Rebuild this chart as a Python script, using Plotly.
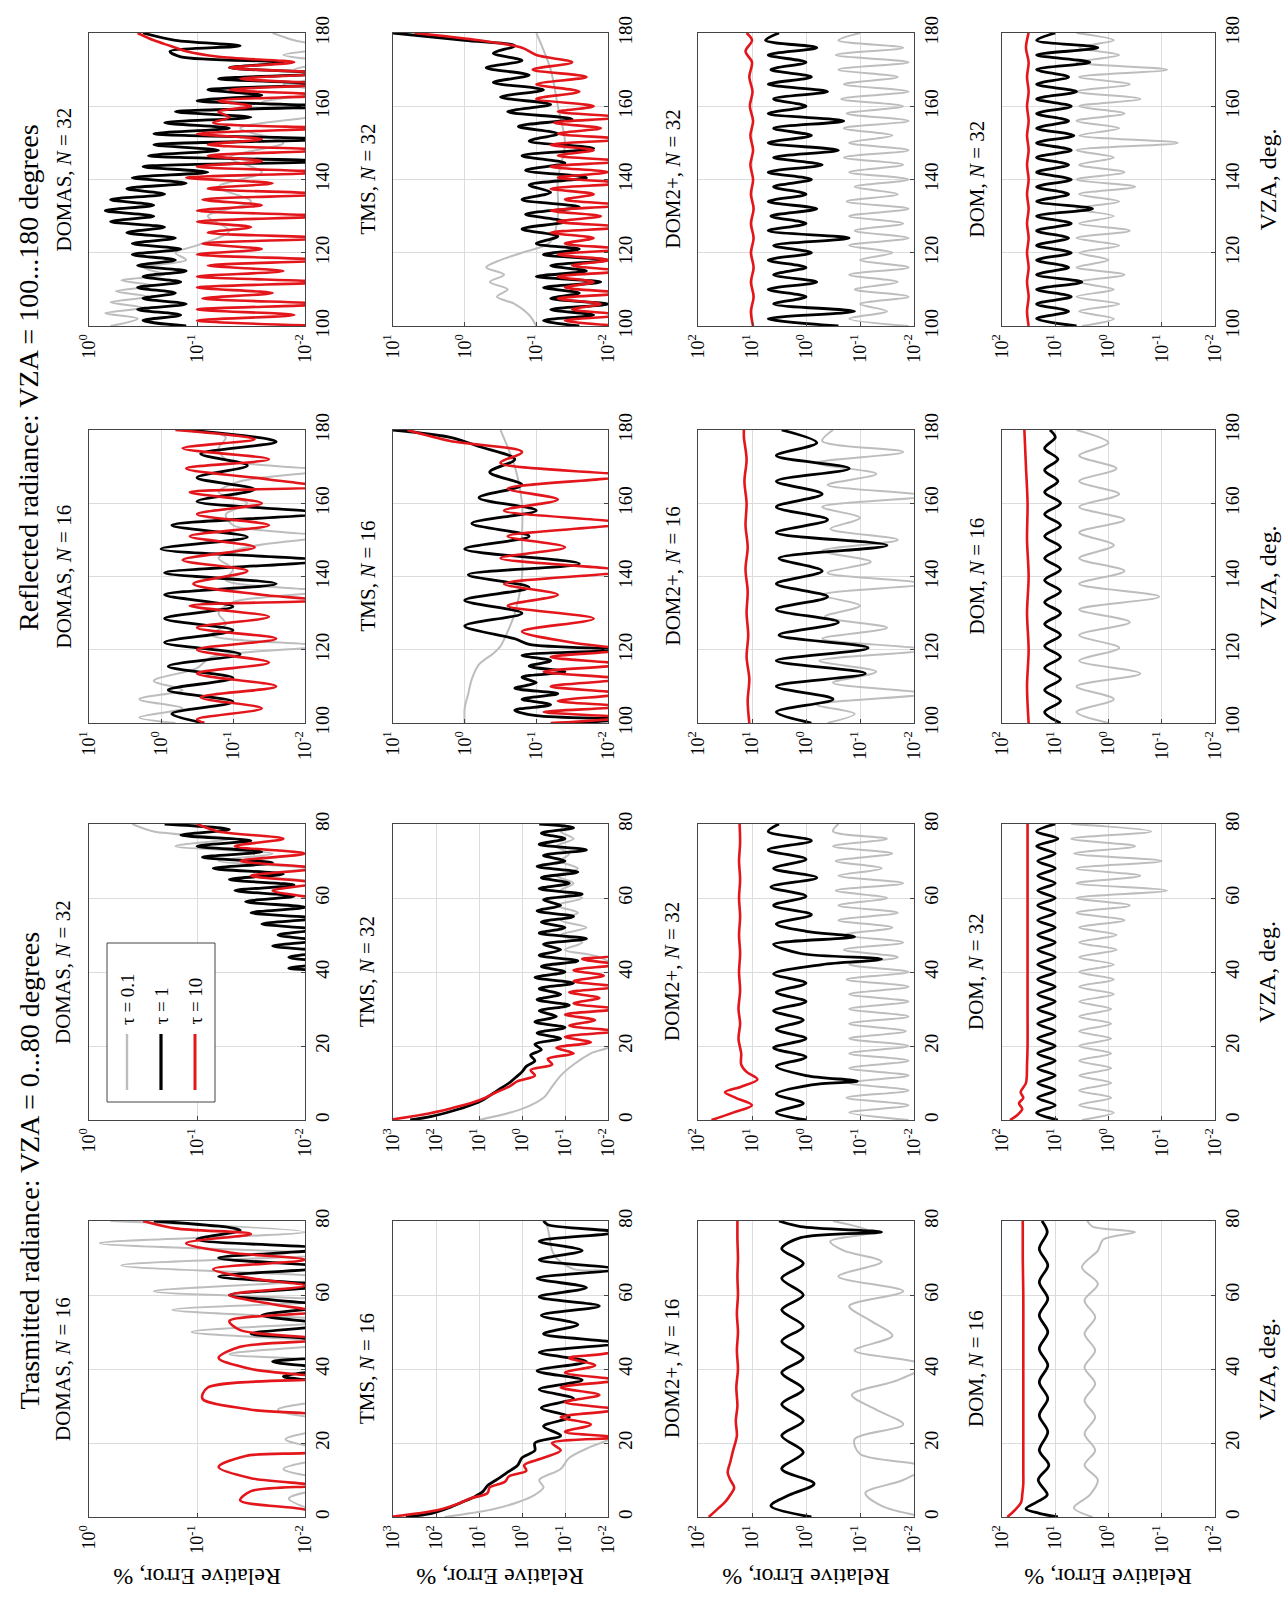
import plotly.graph_objects as go

# ---------------- data (VZA in degrees, values = log10 of relative error in %) ----------------
VZA_T_2 = [0, 2, 4, 6, 8, 10, 12, 14, 16, 18, 20, 22, 24, 26, 28, 30, 32, 34, 36, 38, 40,
           42, 44, 46, 48, 50, 52, 54, 56, 58, 60, 62, 64, 66, 68, 70, 72, 74, 76, 78, 80]
VZA_R_2 = [100, 102, 104, 106, 108, 110, 112, 114, 116, 118, 120, 122, 124, 126, 128, 130, 132,
           134, 136, 138, 140, 142, 144, 146, 148, 150, 152, 154, 156, 158, 160, 162, 164, 166,
           168, 170, 172, 174, 176, 178, 180]
VZA_R_15 = [100, 101.5, 103, 104.5, 106, 107.5, 109, 110.5, 112, 113.5, 115, 116.5, 118, 119.5,
            121, 122.5, 124, 125.5, 127, 128.5, 130, 131.5, 133, 134.5, 136, 137.5, 139, 140.5,
            142, 143.5, 145, 146.5, 148, 149.5, 151, 152.5, 154, 155.5, 157, 158.5, 160, 161.5,
            163, 164.5, 166, 167.5, 169, 170.5, 172, 173.5, 175, 176.5, 178, 180]
VZA_R_3 = [100, 103, 106, 109, 112, 115, 118, 121, 124, 127, 130, 133, 136, 139, 142, 145, 148,
           151, 154, 157, 160, 163, 166, 169, 172, 175, 178, 180]

# DOMAS, transmitted, N = 16
domas_t16_tau01 = [(0,-2.3),(5,-1.85),(9,-2.3),(13,-1.8),(17,-2.3),(21,-1.82),(25,-2.3),(29,-1.75),(33,-2.3),(37,-2.2),(41,-2.3),(44,-1.3),(47,-2.3),(50,-0.95),(53,-2.3),(56,-0.77),(58.5,-2.3),(61,-0.6),(64.5,-2.3),(68,-0.3),(71,-2.2),(74,-0.1),(77,-2.0),(80,-0.2)]
domas_t16_tau1 = [(0,-2.5),(30,-2.5),(36,-2.2),(38,-1.8),(40,-2.2),(42,-1.7),(44,-2.2),(47,-2.2),(49.5,-1.5),(52,-2.2),(54.5,-1.6),(57,-2.2),(60,-1.3),(62.5,-2.2),(65,-1.2),(67.5,-2.2),(70,-1.2),(72.5,-2.2),(75,-1.0),(77.5,-1.4),(80,-0.6)]
domas_t16_tau10 = [(0,-2.2),(2,-2.0),(4.5,-1.4),(7,-1.5),(8.5,-2.1),(10.5,-1.5),(13.5,-1.2),(16.5,-1.45),(19,-2.3),(26,-2.3),(29,-1.5),(32,-1.05),(35,-1.1),(37.5,-2.2),(40,-1.5),(43,-1.2),(46,-1.4),(48,-2.2),(50.5,-1.4),(53,-1.3),(55.5,-2.1),(57.5,-1.7),(60,-1.3),(62.5,-2.0),(64.5,-1.5),(67,-1.15),(69.5,-2.0),(71.5,-1.3),(74,-0.9),(76.5,-1.5),(78,-0.8),(80,-0.5)]

# DOMAS, transmitted, N = 32
domas_t32_tau01 = [(0,-2.5),(60,-2.5),(64,-2.2),(66,-1.5),(68,-2.0),(70,-1.2),(72,-1.7),(74,-0.8),(76,-1.3),(78,-0.6),(80,-0.4)]
domas_t32_tau1 = [(0,-2.5),(14,-2.5),(15,-2.05),(16,-2.5),(27,-2.5),(28,-2.05),(29,-2.5),(36,-2.5),(40,-2.2),(41,-1.85),(42.5,-2.2),(44,-1.85),(45.5,-2.2),(47,-1.7),(48.5,-2.1),(50,-1.75),(51.5,-2.1),(53,-1.6),(54.5,-2.1),(56,-1.5),(57.5,-2.0),(59,-1.45),(60.5,-1.9),(62,-1.35),(63.5,-1.9),(65,-1.3),(66.5,-1.8),(68,-1.15),(69.5,-1.7),(71,-1.05),(72.5,-1.6),(74,-1.0),(75.5,-1.5),(77,-0.85),(78.5,-1.3),(80,-0.7)]
domas_t32_tau10 = [(0,-2.5),(58,-2.5),(60,-2.1),(62,-1.7),(64,-2.1),(66,-1.5),(68,-2.1),(70,-1.4),(72,-2.0),(74,-1.35),(76,-1.8),(78,-1.2),(80,-1.0)]

# DOMAS, reflected, N = 16
domas_r16_tau01 = [(100,-0.2),(101.5,0.3),(104,-0.3),(106.5,0.3),(109,-0.3),(111.5,0.1),(115,-0.5),(118,-0.7),(121,-2.2),(124,-0.7),(127,-0.9),(130,-0.8),(133,-1.0),(136,-2.2),(139,-0.9),(142,-1.0),(145,-0.8),(148,-1.2),(151,-2.2),(154,-1.0),(157,-0.9),(160,-1.2),(163,-0.8),(166,-1.1),(169,-2.2),(172,-0.9),(175,-0.8),(178,-0.9),(180,-0.4)]
domas_r16_tau1 = [(100,-0.6),(102.5,-0.15),(105.8,-1.0),(109,-0.1),(112.3,-1.0),(115.5,-0.1),(118.8,-1.1),(122,-0.05),(125.3,-1.0),(128.5,-0.05),(131.8,-1.0),(135,-0.05),(138,-1.6),(141,-0.05),(144.3,-2.2),(147.5,0.0),(150.8,-1.2),(154,-0.15),(157.3,-2.2),(160.5,-0.5),(163.8,-1.3),(167,-0.5),(170.3,-1.2),(173.5,-0.55),(176.8,-1.6),(180,-0.35)]
domas_r16_tau10 = [(100,-0.6),(101,-0.5),(104,-1.4),(107,-0.55),(110,-1.6),(113.5,-0.5),(116.5,-1.5),(120,-0.5),(123,-1.6),(126,-0.5),(129,-1.5),(132,-0.4),(133.5,-2.2),(135,-1.4),(138,-0.45),(141.5,-1.2),(144.5,-0.3),(148,-1.3),(151,-0.4),(154,-1.5),(157,-0.5),(160,-1.4),(163,-0.4),(164.5,-2.2),(166.5,-1.5),(169.5,-0.35),(172,-1.5),(175,-0.3),(177.5,-1.3),(180,-0.2)]

# DOMAS, reflected, N = 32 (tau = 1 and tau = 10 on VZA_R_15)
domas_r32_tau01 = [(100,-0.2),(102,-0.45),(103.5,-0.15),(105,-0.5),(106.5,-0.2),(108,-0.55),(109.5,-0.25),(111,-0.6),(112.5,-0.3),(114,-0.7),(116,-0.5),(118,-0.9),(120,-0.8),(122,-1.0),(126,-1.3),(130,-1.1),(134,-1.5),(138,-1.2),(142,-1.6),(146,-1.3),(150,-1.8),(154,-1.4),(158,-2.2),(161,-1.6),(164,-2.2),(166,-1.8),(168,-2.2),(170,-1.9),(172,-2.2),(174,-1.8),(176,-2.2),(178,-1.9),(180,-1.7)]
domas_r32_tau1 = [-0.9, -0.5, -0.85, -0.45, -0.9, -0.5, -0.8, -0.45, -0.85, -0.5,
                  -0.9, -0.45, -0.8, -0.4, -0.85, -0.4, -0.8, -0.35, -0.7, -0.2,
                  -0.6, -0.15, -0.6, -0.2, -0.7, -0.35, -0.9, -0.4, -1.1, -0.5,
                  -2.2, -0.55, -1.2, -0.6, -2.2, -0.6, -1.3, -0.7, -1.5, -0.8,
                  -2.2, -1.0, -1.6, -1.1, -2.2, -1.2, -2.2, -1.3, -1.8, -0.85,
                  -0.75, -1.4, -0.8, -0.5]
domas_r32_tau10 = [-2.2, -1.0, -1.9, -1.0, -2.2, -1.05, -1.7, -1.0, -2.2, -1.0,
                   -1.8, -1.1, -2.2, -1.0, -1.6, -1.05, -2.2, -1.1, -1.5, -1.0,
                   -2.2, -1.0, -1.6, -1.05, -2.2, -1.1, -1.7, -0.9, -2.2, -1.0,
                   -1.6, -1.1, -2.2, -1.1, -1.6, -1.0, -2.2, -1.15, -1.3, -1.2,
                   -1.5, -1.2, -2.2, -1.3, -2.2, -1.4, -2.2, -1.3, -1.9, -1.2,
                   -0.9, -0.75, -0.6, -0.45]

# TMS, transmitted, N = 16
tms_t16_tau01 = [(0,1.8),(2,0.7),(4,0.1),(6,-0.3),(8,-0.5),(10,-0.4),(13,-0.9),(16,-1.1),(19,-1.6),(22,-2.2),(25,-2.3),(65,-2.3),(67,-1.2),(70,-0.8),(72,-0.7),(75,-0.65),(78,-0.6),(80,-0.55)]
tms_t16_tau1 = [(0,2.7),(1,2.1),(2.5,1.7),(4,1.4),(5.5,1.1),(7,0.9),(8.5,0.8),(10,0.6),(12,0.35),(14,0.1),(16,0.0),(18,-0.3),(20,-0.3),(22,-0.9),(24.5,-0.5),(27,-1.1),(29.5,-0.45),(32,-1.2),(34.5,-0.4),(37,-1.4),(39.5,-0.35),(42,-1.5),(44.5,-0.4),(47,-2.2),(49.5,-0.5),(52,-1.3),(54.5,-0.45),(57,-1.8),(59.5,-0.4),(62,-1.5),(64.5,-0.35),(67,-2.2),(69.5,-0.4),(72,-1.4),(74.5,-0.4),(77,-2.2),(79,-0.6),(80,-0.5)]
tms_t16_tau10 = [(0,3.1),(1,2.4),(2,1.9),(3.5,1.5),(5,1.2),(6.5,0.8),(8,0.75),(9.5,0.4),(11,0.3),(12.5,-0.1),(14,-0.05),(16,-0.5),(18,-0.9),(20,-0.7),(21.5,-2.2),(23,-1.0),(25,-1.6),(27,-0.9),(29,-2.2),(31,-1.0),(33,-1.8),(35,-0.9),(37,-2.2),(39,-1.0),(41,-1.7),(43,-1.1),(45,-2.2),(50,-2.5),(80,-2.5)]

# TMS, transmitted, N = 32
tms_t32_tau01 = [(0,1.0),(3,0.0),(6,-0.5),(9,-0.7),(12,-0.9),(15,-1.2),(18,-1.6),(21,-2.2),(40,-2.3),(44,-1.8),(46,-1.0),(48,-1.4),(50,-0.9),(52,-1.5),(54,-0.9),(56,-1.3),(58,-0.8),(60,-1.4),(62,-0.9),(64,-1.2),(66,-0.8),(68,-1.3),(70,-0.9),(72,-1.1),(74,-0.8),(76,-1.2),(78,-0.9),(80,-1.0)]
tms_t32_tau1 = [(0,2.6),(1,2.1),(2.5,1.6),(4,1.2),(5.5,0.9),(7,0.7),(8.5,0.5),(10,0.3),(11.5,0.15),(13,0.0),(14.5,-0.1),(16,-0.3),(17.5,-0.2),(19,-0.45),(20.5,-0.3),(22,-0.9),(23.5,-0.35),(25,-1.0),(26.5,-0.3),(28,-0.8),(29.5,-0.4),(31,-1.1),(32.5,-0.35),(34,-0.9),(35.5,-0.4),(37,-1.2),(38.5,-0.3),(40,-1.0),(41.5,-0.45),(43,-1.3),(44.5,-0.4),(46,-0.9),(47.5,-0.5),(49,-1.5),(50.5,-0.4),(52,-1.0),(53.5,-0.45),(55,-1.2),(56.5,-0.35),(58,-0.9),(59.5,-0.5),(61,-1.4),(62.5,-0.4),(64,-1.1),(65.5,-0.45),(67,-1.3),(68.5,-0.35),(70,-1.0),(71.5,-0.5),(73,-1.5),(74.5,-0.4),(76,-1.0),(77.5,-0.45),(79,-1.2),(80,-0.4)]
tms_t32_tau10 = [(0,3.1),(1.5,2.3),(3,1.7),(4.5,1.2),(6,0.85),(7.5,0.6),(9,0.3),(10.5,0.1),(12,-0.3),(13.5,-0.2),(15,-0.7),(16.5,-0.6),(18,-1.2),(19.5,-0.8),(21,-1.6),(22.5,-1.0),(24,-2.2),(25.5,-1.1),(27,-1.7),(28.5,-1.0),(30,-2.2),(31.5,-1.2),(33,-1.8),(34.5,-1.1),(36,-2.2),(37.5,-1.2),(39,-1.9),(40.5,-1.2),(42,-2.2),(43.5,-1.4),(45,-2.3),(50,-2.5),(80,-2.5)]

# TMS, reflected, N = 16
tms_r16_tau01 = [(100,0.0),(104,0.0),(108,-0.05),(112,-0.1),(116,-0.2),(119,-0.4),(121,-0.5),(125,-0.6),(130,-0.7),(140,-0.8),(150,-0.8),(160,-0.8),(170,-0.7),(180,-0.5)]
tms_r16_tau1 = [(100,-1.5),(101,-2.2),(102,-1.0),(103.5,-0.7),(105,-1.2),(106.5,-0.8),(108,-1.3),(109.5,-0.7),(111,-1.0),(112.5,-0.8),(114,-1.4),(115.5,-0.9),(117,-1.2),(118.5,-0.8),(120,-2.2),(121.5,-0.9),(123,-0.7),(126.5,0.0),(130,-0.8),(133.5,0.0),(137,-0.9),(140.5,-0.05),(143.5,-1.6),(147.5,0.0),(151,-0.9),(154.5,-0.1),(158,-1.0),(161.5,-0.2),(165,-0.8),(168.5,-0.35),(172,-0.7),(175.5,-0.2),(178,0.2),(180,1.0)]
tms_r16_tau10 = [(100,-1.2),(101.5,-2.2),(103,-1.1),(104.5,-2.2),(106,-1.3),(108,-2.2),(110,-1.2),(112,-2.2),(114,-1.1),(116,-2.2),(118,-1.2),(120,-2.2),(122,-1.5),(125,-0.8),(128.5,-1.8),(132,-0.6),(135,-1.3),(138,-0.55),(141.5,-2.2),(145,-0.5),(148,-1.4),(151,-0.6),(154.5,-2.2),(158,-0.55),(161,-1.3),(164,-0.6),(167.5,-2.2),(171,-0.5),(174,-0.8),(177,0.2),(180,0.8)]

# TMS, reflected, N = 32
tms_r32_tau01 = [(100,-1.0),(103,-0.9),(106,-0.7),(108,-0.45),(110,-0.6),(112,-0.35),(114,-0.55),(116,-0.3),(118,-0.5),(120,-0.8),(123,-1.2),(130,-1.3),(140,-1.3),(150,-1.4),(160,-1.3),(170,-1.2),(180,-1.0)]
tms_r32_tau1 = [(100,-1.6),(101.5,-1.1),(103,-1.8),(104.5,-1.2),(106,-2.0),(107.5,-1.2),(109,-1.6),(110.5,-1.1),(112,-1.9),(113.5,-1.0),(115,-1.7),(116.5,-1.2),(118,-2.0),(119.5,-1.1),(121,-1.6),(122.5,-1.0),
                (124.5,-1.3),(126.5,-0.8),(128.5,-1.4),(130.5,-0.85),(132.5,-1.6),(134.5,-0.8),(136.5,-1.2),(138.5,-0.9),(140.5,-1.7),(142.5,-0.85),(144.5,-1.4),(146.5,-0.8),(148.5,-1.8),(150.5,-0.9),(152.5,-1.3),(154.5,-0.75),(156.5,-1.5),(158.5,-0.6),(160.5,-1.2),(162.5,-0.5),(164.5,-1.1),(166.5,-0.4),(168.5,-0.9),(170.5,-0.3),(172.5,-0.8),(174.5,-0.4),(176.5,-0.7),(178,0.0),(180,1.0)]
tms_r32_tau10 = [(100,-2.2),(101.5,-1.4),(103,-2.2),(104.5,-1.5),(106,-1.9),(107.5,-1.3),(109,-2.2),(110.5,-1.4),(112,-1.8),(113.5,-1.3),(115,-2.2),(116.5,-1.5),(118,-2.0),(119.5,-1.3),(121,-2.2),(122.5,-1.4),(124,-1.8),(125.5,-1.2),(127,-2.2),(128.5,-1.3),(130,-1.9),(131.5,-1.2),(133,-2.2),(134.5,-1.4),(136,-1.8),(137.5,-1.2),(139,-2.2),(140.5,-1.3),(142,-2.0),(143.5,-1.2),(145,-2.2),(146.5,-1.3),(148,-1.8),(149.5,-1.2),(151,-2.2),(152.5,-1.3),(154,-1.9),(155.5,-1.25),(157,-2.2),(158.5,-1.3),
                 (160,-1.8),(162,-1.0),(164,-1.6),(166,-1.0),(168,-1.7),(170,-0.95),(172,-1.5),(174,-1.0),(176,-0.8),(178,-0.2),(180,0.7)]

# DOM2+, transmitted, N = 16
dom2_t16_tau01 = [(0,-2.2),(3,-1.4),(6.5,-1.1),(10,-1.8),(13.5,-2.2),(17,-1.0),(21,-0.9),(25,-1.8),(29,-1.3),(33,-0.85),(37,-1.7),(41,-2.2),(45,-0.9),(49,-1.6),(53,-1.2),(57,-0.8),(61,-1.8),(65,-0.6),(69,-1.4),(72,-0.7),(74.5,-0.45),(77,-1.2),(80,-0.5)]
dom2_t16_tau1 = [(0,-0.1),(3,0.65),(6,0.3),(9,-0.15),(13,0.45),(17.5,0.05),(22,0.45),(26,0.05),(30.5,0.45),(34.5,0.05),(39,0.45),(43,0.05),(47.5,0.45),(51.5,0.05),(56,0.45),(60,0.05),(64.5,0.45),(68.5,0.05),(72.5,0.45),(75.5,0.1),(77,-1.4),(78.5,0.1),(80,0.5)]
dom2_t16_tau10 = [(0,1.8),(2,1.65),(4,1.5),(6,1.4),(8,1.33),(10,1.4),(12,1.45),(15,1.4),(18,1.35),(22,1.28),(26,1.3),(30,1.27),(35,1.29),(40,1.26),(45,1.28),(50,1.26),(55,1.28),(60,1.26),(65,1.27),(70,1.26),(75,1.27),(80,1.27)]

# DOM2+, transmitted, N = 32 (tau = 0.1 on VZA_T_2)
dom2_t32_tau01 = [-1.9, -0.8, -1.9, -0.75, -1.9, -0.8, -1.9, -0.8, -1.9, -0.8,
                  -1.9, -0.8, -1.85, -0.8, -1.9, -0.8, -1.9, -0.8, -1.9, -0.75,
                  -1.9, -0.8, -1.7, -0.7, -1.8, -0.7, -1.6, -0.6, -1.7, -0.6,
                  -1.5, -0.55, -1.8, -0.6, -1.4, -0.55, -1.6, -0.5, -1.5, -0.5,
                  -0.6]
dom2_t32_tau1 = [(0,0.0),(2,0.55),(4.5,0.05),(7,0.55),(9.5,-0.1),(10.5,-0.95),(12,0.0),(14.5,0.55),(17,0.0),(19.5,0.6),(22,0.0),(24.5,0.55),(27,0.05),(29.5,0.6),(32,0.0),(34.5,0.55),(37,0.0),(39.5,0.6),(42,-0.3),(43.5,-1.4),(45,0.1),(47.5,0.6),(49.5,-0.9),(51,0.0),(53,0.55),(55.5,-0.1),(58,0.6),(60.5,0.0),(63,0.65),(65.5,-0.2),(68,0.6),(70.5,0.0),(73,0.7),(75.5,-0.1),(78,0.7),(80,0.5)]
dom2_t32_tau10 = [(0,1.75),(2,1.35),(4,1.0),(6,1.3),(7.5,1.5),(9,1.2),(11,0.9),(13,1.1),(15,1.2),(18,1.2),(22,1.25),(26,1.22),(30,1.25),(35,1.22),(40,1.24),(45,1.22),(50,1.24),(55,1.22),(60,1.24),(65,1.22),(70,1.24),(75,1.22),(80,1.23)]

# DOM2+, reflected, N = 16
dom2_r16_tau01 = [(100,-0.4),(102.5,-0.9),(105,-0.2),(108,-2.2),(111,-0.5),(114,-1.3),(117,-0.25),(120,-2.2),(123,-0.3),(126,-1.5),(129,-0.35),(132,-1.0),(135,-0.3),(138,-2.2),(141,-0.4),(144,-1.2),(147,-0.3),(150,-1.7),(153,-0.45),(156,-1.0),(159,-0.3),(162,-2.2),(165,-0.4),(168,-1.3),(171,-0.2),(174,-1.8),(177,-0.3),(180,-0.5)]
dom2_r16_tau1 = [(100,-0.1),(103,0.55),(106.5,-0.5),(110,0.55),(113.5,-1.1),(117,0.55),(120.5,-1.15),(124,0.5),(127.5,-0.6),(131,0.55),(134.5,-0.4),(138,0.55),(141.5,-0.3),(145,0.5),(148.5,-1.5),(152,0.55),(155.5,-0.4),(159,0.55),(162.5,-0.3),(166,0.55),(169.5,-0.8),(173,0.55),(176.5,-0.2),(180,0.45)]
dom2_r16_tau10 = [(100,1.05),(106,1.08),(112,1.05),(118,1.1),(124,1.07),(130,1.1),(136,1.08),(142,1.12),(148,1.08),(154,1.12),(160,1.1),(166,1.14),(172,1.1),(178,1.15),(180,1.15)]

# DOM2+, reflected, N = 32 (tau = 0.1 and tau = 1 on VZA_R_2)
dom2_r32_tau01 = [-1.9, -0.8, -1.5, -1.0, -1.9, -0.9, -1.7, -0.8, -1.9, -1.0,
                  -1.6, -0.8, -1.9, -0.9, -1.8, -0.8, -1.9, -0.75, -1.7, -0.9,
                  -1.9, -0.8, -1.8, -0.7, -1.9, -0.8, -1.6, -0.7, -1.9, -0.75,
                  -1.8, -0.65, -1.9, -0.7, -1.7, -0.6, -1.9, -0.55, -1.8, -0.6,
                  -1.0]
dom2_r32_tau1 = [-0.6, 0.7, -0.9, 0.6, 0.0, 0.7, -0.2, 0.6, 0.0, 0.7,
                 -0.1, 0.6, -0.8, 0.7, 0.0, 0.65, -0.2, 0.7, 0.0, 0.6,
                 -0.1, 0.7, -0.3, 0.6, -0.6, 0.7, -0.1, 0.6, -0.7, 0.7,
                 0.0, 0.6, -0.4, 0.7, -0.1, 0.65, 0.0, 0.7, -0.2, 0.75,
                 0.5]
dom2_r32_tau10 = [(100,0.98),(104,1.02),(108,0.97),(112,1.02),(116,0.97),(120,1.02),(124,0.97),(128,1.02),(132,0.97),(136,1.02),(140,0.98),(144,1.03),(148,0.98),(152,1.03),(156,0.98),(160,1.04),(164,0.99),(168,1.05),(172,1.0),(175,1.12),(178,1.0),(180,1.1)]

# DOM, transmitted, N = 16
dom_t16_tau01 = [(0,0.3),(2.5,0.65),(6,0.35),(10,0.2),(14,0.45),(18,0.25),(22.5,0.45),(27,0.25),(31.5,0.45),(36,0.25),(40.5,0.45),(45,0.25),(49.5,0.45),(54,0.25),(58.5,0.45),(63,0.2),(67.5,0.5),(72,0.2),(75,0.1),(77,-0.5),(78.5,0.3),(80,0.4)]
dom_t16_tau1 = [(0,0.95),(1,1.3),(2.2,1.55),(4,1.35),(6,1.15),(10,1.32),(14,1.12),(18,1.3),(23,1.14),(27.5,1.3),(32,1.14),(36.5,1.3),(41,1.14),(45.5,1.3),(50,1.14),(54.5,1.3),(59,1.14),(63.5,1.3),(68,1.14),(72.5,1.3),(77,1.15),(80,1.25)]
dom_t16_tau10 = [(0,1.9),(2,1.75),(4,1.64),(6,1.62),(9,1.6),(12,1.6),(16,1.6),(20,1.6),(30,1.6),(40,1.6),(50,1.6),(60,1.6),(70,1.61),(80,1.61)]

# DOM, transmitted, N = 32 (tau = 0.1 and tau = 1 on VZA_T_2)
dom_t32_tau01 = [0.5, -0.1, 0.55, -0.05, 0.55, -0.05, 0.55, -0.05, 0.55, -0.05,
                 0.55, -0.05, 0.55, -0.05, 0.55, -0.05, 0.55, -0.1, 0.55, -0.1,
                 0.55, -0.1, 0.55, -0.15, 0.55, -0.15, 0.55, -0.3, 0.6, -0.4,
                 0.6, -1.1, 0.6, -0.6, 0.6, -1.0, 0.65, -0.5, 0.7, -0.8,
                 0.7]
dom_t32_tau1 = [0.95, 1.35, 1.0, 1.33, 1.0, 1.33, 1.0, 1.33, 1.0, 1.33,
                1.0, 1.33, 1.0, 1.33, 1.0, 1.33, 1.0, 1.33, 1.0, 1.33,
                1.0, 1.33, 1.0, 1.33, 1.0, 1.33, 1.0, 1.33, 1.0, 1.33,
                1.0, 1.33, 1.0, 1.33, 1.0, 1.33, 1.0, 1.35, 0.95, 1.35,
                1.0]
dom_t32_tau10 = [(0,1.85),(1.5,1.7),(3,1.62),(4.5,1.68),(6,1.6),(7.5,1.65),(10,1.55),(15,1.53),(20,1.52),(30,1.52),(40,1.52),(50,1.52),(60,1.52),(70,1.52),(80,1.52)]

# DOM, reflected, N = 16 (tau = 1 on VZA_R_3)
dom_r16_tau01 = [(100,0.0),(103,0.6),(106.5,-0.1),(110,0.6),(113.5,-0.6),(117,0.55),(120.5,-0.2),(124,0.55),(127.5,-0.4),(131,0.55),(134.5,-0.95),(138,0.55),(141.5,-0.3),(145,0.55),(148.5,-0.1),(152,0.55),(155.5,-0.3),(159,0.55),(162.5,-0.2),(166,0.55),(169.5,-0.15),(173,0.55),(176.5,0.0),(180,0.6)]
dom_r16_tau1 = [0.9, 1.2, 0.9, 1.2, 0.9, 1.2, 0.9, 1.2, 0.9, 1.2,
                0.9, 1.2, 0.9, 1.2, 0.9, 1.2, 0.9, 1.2, 0.9, 1.2,
                0.9, 1.2, 0.95, 1.2, 0.95, 1.2, 1.0, 1.1]
dom_r16_tau10 = [(100,1.5),(110,1.53),(120,1.5),(130,1.53),(140,1.5),(150,1.53),(160,1.52),(170,1.55),(180,1.58)]

# DOM, reflected, N = 32 (tau = 0.1 and tau = 1 on VZA_R_2)
dom_r32_tau01 = [0.5, -0.1, 0.55, -0.2, 0.6, -0.1, 0.55, -0.3, 0.6, 0.0,
                 0.55, -0.2, 0.6, -0.4, 0.55, -0.1, 0.6, -0.2, 0.55, -0.5,
                 0.6, -0.3, 0.55, -0.1, 0.6, -1.3, 0.55, -0.2, 0.6, -0.3,
                 0.55, -0.6, 0.6, -0.4, 0.55, -1.1, 0.6, -0.2, 0.55, -0.1,
                 0.6]
dom_r32_tau1 = [0.6, 1.35, 0.75, 1.35, 0.7, 1.35, 0.5, 1.35, 0.75, 1.35,
                0.7, 1.35, 0.75, 1.35, 0.7, 1.35, 0.3, 1.35, 0.75, 1.35,
                0.7, 1.35, 0.75, 1.35, 0.7, 1.35, 0.65, 1.35, 0.75, 1.35,
                0.7, 1.35, 0.6, 1.35, 0.75, 1.35, 0.35, 1.35, 0.2, 1.35,
                1.0]
dom_r32_tau10 = [(100,1.5),(104,1.53),(108,1.5),(112,1.53),(116,1.5),(120,1.53),(124,1.5),(128,1.53),(132,1.5),(136,1.53),(140,1.5),(144,1.53),(148,1.5),(152,1.53),(156,1.5),(160,1.53),(164,1.5),(168,1.53),(172,1.5),(176,1.55),(180,1.5)]

tau_labels = ["τ = 0.1", "τ = 1", "τ = 10"]
method_names = ["DOMAS", "TMS", "DOM2+", "DOM"]
case_titles = ["Trasmitted radiance: VZA = 0...80 degrees", "Reflected radiance: VZA = 100...180 degrees"]


def pts(series, grid=None):
    if grid is not None:
        return list(grid), list(series)
    return [p[0] for p in series], [p[1] for p in series]


# ---------------- layout geometry (pixels) ----------------
W, H = 1288, 1610
COLS = [(89, 305), (393, 608), (698, 914), (1002, 1215)]
ROWS = [(33, 326), (430, 723), (824, 1120), (1221, 1517)]
FONT = "Liberation Serif"
COLORS = ["#bdbdbd", "#000000", "#e3161c"]
WIDTHS = [2.0, 2.8, 2.6]

panels = [
    (0, 3, 16, True, 0, -2, [pts(domas_t16_tau01), pts(domas_t16_tau1), pts(domas_t16_tau10)]),
    (0, 2, 32, True, 0, -2, [pts(domas_t32_tau01), pts(domas_t32_tau1), pts(domas_t32_tau10)]),
    (0, 1, 16, False, 1, -2, [pts(domas_r16_tau01), pts(domas_r16_tau1), pts(domas_r16_tau10)]),
    (0, 0, 32, False, 0, -2, [pts(domas_r32_tau01), pts(domas_r32_tau1, VZA_R_15), pts(domas_r32_tau10, VZA_R_15)]),
    (1, 3, 16, True, 3, -2, [pts(tms_t16_tau01), pts(tms_t16_tau1), pts(tms_t16_tau10)]),
    (1, 2, 32, True, 3, -2, [pts(tms_t32_tau01), pts(tms_t32_tau1), pts(tms_t32_tau10)]),
    (1, 1, 16, False, 1, -2, [pts(tms_r16_tau01), pts(tms_r16_tau1), pts(tms_r16_tau10)]),
    (1, 0, 32, False, 1, -2, [pts(tms_r32_tau01), pts(tms_r32_tau1), pts(tms_r32_tau10)]),
    (2, 3, 16, True, 2, -2, [pts(dom2_t16_tau01), pts(dom2_t16_tau1), pts(dom2_t16_tau10)]),
    (2, 2, 32, True, 2, -2, [pts(dom2_t32_tau01, VZA_T_2), pts(dom2_t32_tau1), pts(dom2_t32_tau10)]),
    (2, 1, 16, False, 2, -2, [pts(dom2_r16_tau01), pts(dom2_r16_tau1), pts(dom2_r16_tau10)]),
    (2, 0, 32, False, 2, -2, [pts(dom2_r32_tau01, VZA_R_2), pts(dom2_r32_tau1, VZA_R_2), pts(dom2_r32_tau10)]),
    (3, 3, 16, True, 2, -2, [pts(dom_t16_tau01), pts(dom_t16_tau1), pts(dom_t16_tau10)]),
    (3, 2, 32, True, 2, -2, [pts(dom_t32_tau01, VZA_T_2), pts(dom_t32_tau1, VZA_T_2), pts(dom_t32_tau10)]),
    (3, 1, 16, False, 2, -2, [pts(dom_r16_tau01), pts(dom_r16_tau1, VZA_R_3), pts(dom_r16_tau10)]),
    (3, 0, 32, False, 2, -2, [pts(dom_r32_tau01, VZA_R_2), pts(dom_r32_tau1, VZA_R_2), pts(dom_r32_tau10)]),
]

fig = go.Figure()
layout = dict(width=W, height=H, margin=dict(l=0, r=0, t=0, b=0), template="none",
              paper_bgcolor="white", plot_bgcolor="white", showlegend=False,
              font=dict(family=FONT, size=19, color="black"))
annotations = []
shapes = []


def px_x(x):
    return x / W


def px_y(y):
    return 1 - y / H


def note(text, x, y, angle, size, xa="center", ya="middle"):
    return dict(text=text, xref="paper", yref="paper", x=px_x(x), y=px_y(y),
                textangle=angle, showarrow=False, xanchor=xa, yanchor=ya,
                font=dict(family=FONT, size=size, color="black"))


for i, (c, r, n, trans, hi, lo, series) in enumerate(panels, start=1):
    x0, x1 = COLS[c]
    y0, y1 = ROWS[r]
    exps = list(range(lo, hi + 1))
    layout[f"xaxis{i}"] = dict(
        type="log", range=[hi, lo], domain=[px_x(x0), px_x(x1)], anchor=f"y{i}",
        tickvals=[10.0 ** e for e in exps], ticktext=[f"10<sup>{e}</sup>" for e in exps],
        tickangle=-90, ticks="inside", ticklen=4, tickcolor="#444",
        showgrid=True, gridcolor="#dcdcdc", gridwidth=1, zeroline=False,
        showline=True, mirror=True, linecolor="#444", linewidth=1,
        tickfont=dict(family=FONT, size=18, color="black"), automargin=False)
    vr = [0, 80] if trans else [100, 180]
    layout[f"yaxis{i}"] = dict(
        range=vr, domain=[px_y(y1), px_y(y0)], anchor=f"x{i}", side="right",
        tick0=vr[0], dtick=20, tickangle=-90, ticks="inside", ticklen=4, tickcolor="#444",
        showgrid=True, gridcolor="#dcdcdc", gridwidth=1, zeroline=False,
        showline=True, mirror=True, linecolor="#444", linewidth=1,
        tickfont=dict(family=FONT, size=19, color="black"), automargin=False)
    for k, (vza, lg) in enumerate(series):
        fig.add_trace(go.Scatter(
            x=[10.0 ** v for v in lg], y=vza, xaxis=f"x{i}", yaxis=f"y{i}", mode="lines",
            name=tau_labels[k], hoverinfo="skip",
            line=dict(color=COLORS[k], width=WIDTHS[k], shape="spline", smoothing=0.9)))
    annotations.append(note(f"{method_names[c]}, <i>N</i> = {n}", x0 - 26, (y0 + y1) / 2, -90, 21))

# section titles
annotations.append(note(case_titles[0], 29, (ROWS[2][0] + ROWS[3][1]) / 2, -90, 28))
annotations.append(note(case_titles[1], 29, (ROWS[0][0] + ROWS[1][1]) / 2, -90, 28))
# axis titles
for (x0, x1) in COLS:
    annotations.append(note("Relative Error, %", (x0 + x1) / 2, 1577, 180, 24))
for (y0, y1) in ROWS:
    annotations.append(note("VZA, deg.", 1267, (y0 + y1) / 2, -90, 24))

# legend (inside the DOMAS, N = 32 transmitted panel)
shapes.append(dict(type="rect", xref="paper", yref="paper", x0=px_x(107), x1=px_x(215),
                   y0=px_y(1102), y1=px_y(943), line=dict(color="#444", width=1),
                   fillcolor="white", layer="above"))
for k, lx in enumerate([127, 161, 195]):
    shapes.append(dict(type="line", xref="paper", yref="paper", x0=px_x(lx), x1=px_x(lx),
                       y0=px_y(1090), y1=px_y(1034), line=dict(color=COLORS[k], width=WIDTHS[k] + 0.4),
                       layer="above"))
    annotations.append(note(tau_labels[k], lx, 1027, -90, 19, "center", "bottom"))

layout["annotations"] = annotations
layout["shapes"] = shapes
fig.update_layout(**layout)
fig.write_html("out.html")
